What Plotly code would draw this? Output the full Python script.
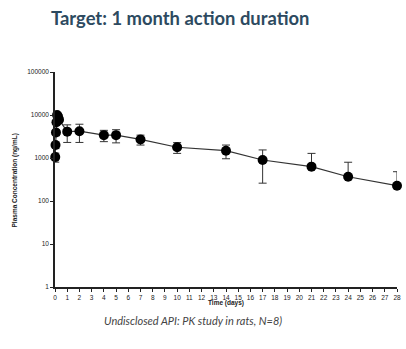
import plotly.graph_objects as go

# Data (time in days, mean plasma concentration ng/mL, SD)
time_days = [0.02, 0.04, 0.08, 0.12, 0.17, 0.25, 0.33, 1, 2, 4, 5, 7, 10, 14, 17, 21, 24, 28]
conc_mean = [1050, 2000, 3900, 6800, 10000, 9200, 7800, 4100, 4200, 3400, 3400, 2700, 1780, 1480, 900, 630, 367, 227]
conc_sd = [250, 350, 600, 800, 1400, 1000, 1000, 1800, 1900, 1000, 1150, 700, 500, 520, 640, 650, 430, 253]

x_ticks = list(range(0, 29))
y_ticks = [1, 10, 100, 1000, 10000, 100000]
y_tick_labels = ["1", "10", "100", "1000", "10000", "100000"]

title_text = "Target: 1 month action duration"
caption_text = "Undisclosed API: PK study in rats, N=8)"
x_title = "Time (days)"
y_title = "Plasma Concentration (ng/mL)"

# lower error bar omitted where mean - SD <= 0 (log axis)
err_minus = [s if s < m else 0 for m, s in zip(conc_mean, conc_sd)]

W, H = 406, 349
ML, MR, MT, MB = 55, 5, 72, 62
PW, PH = W - ML - MR, H - MT - MB


def px(x):
    return (x - ML) / PW


def py(y):
    return (H - MB - y) / PH


fig = go.Figure()
fig.add_trace(go.Scatter(
    x=time_days, y=conc_mean,
    mode="lines+markers",
    line=dict(color="#333333", width=1.2),
    marker=dict(color="black", size=10),
    error_y=dict(type="data", symmetric=False, array=conc_sd, arrayminus=err_minus,
                 color="#333333", thickness=1, width=4),
    cliponaxis=False,
    showlegend=False,
))

axis_font = dict(family="Liberation Sans", size=6.5, color="#222222")

fig.update_layout(
    width=W, height=H,
    margin=dict(l=ML, r=MR, t=MT, b=MB),
    paper_bgcolor="white", plot_bgcolor="white",
    xaxis=dict(range=[0, 28], tickmode="array", tickvals=x_ticks,
               ticks="outside", ticklen=3, tickwidth=1, tickcolor="#222",
               showline=True, linecolor="#222", linewidth=1.5,
               showgrid=False, zeroline=False, tickfont=axis_font),
    yaxis=dict(type="log", range=[0, 5], tickmode="array", tickvals=y_ticks,
               ticktext=y_tick_labels,
               ticks="outside", ticklen=3, tickwidth=1, tickcolor="#222",
               showline=True, linecolor="#222", linewidth=1.5,
               showgrid=False, zeroline=False, tickfont=axis_font),
    annotations=[
        dict(text="<b>" + title_text + "</b>", x=px(181), y=py(18), xref="paper", yref="paper",
             xanchor="center", yanchor="middle",
             showarrow=False, font=dict(family="Lato", size=18.4, color="#2d4a60")),
        dict(text="<b>" + x_title + "</b>", x=px(228), y=py(303), xref="paper", yref="paper",
             xanchor="center", yanchor="middle",
             showarrow=False, font=dict(family="Liberation Sans", size=6.5, color="#222")),
        dict(text="<b>" + y_title + "</b>", x=px(15), y=py(180), xref="paper", yref="paper",
             xanchor="center", yanchor="middle",
             textangle=-90, showarrow=False,
             font=dict(family="Liberation Sans", size=6.5, color="#222")),
        dict(text="<i>" + caption_text + "</i>", x=px(195), y=py(320), xref="paper", yref="paper",
             xanchor="center", yanchor="middle",
             showarrow=False, font=dict(family="Lato", size=11, color="#444444")),
    ],
)

fig.write_html("out.html")
